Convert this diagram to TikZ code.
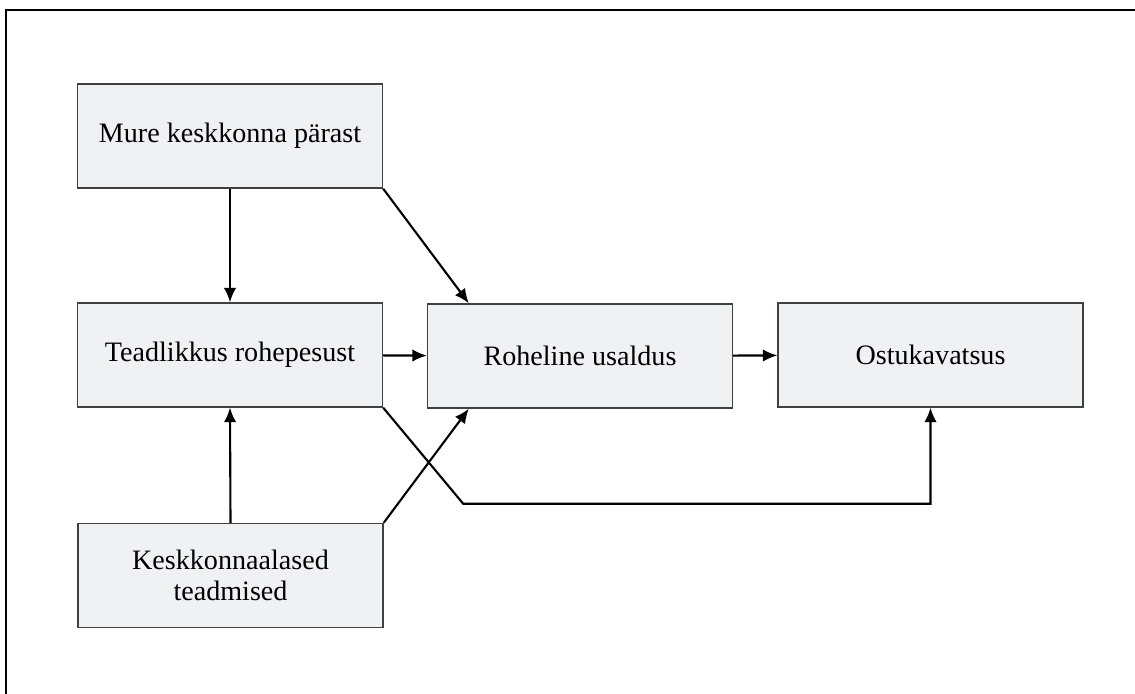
\documentclass[tikz,border=0pt]{standalone}
\usepackage{fontspec}
\setmainfont{Liberation Serif}
\usetikzlibrary{arrows.meta}
\definecolor{kastvarv}{RGB}{240,241,243}
\tikzset{
  kast/.style={draw=black!75,fill=kastvarv,line width=.8pt,minimum width=6.1cm,minimum height=2.08cm,align=center,font=\fontsize{16}{17.5}\selectfont,inner sep=0pt},
  nool/.style={-{Latex[length=2.9mm,width=2.5mm]},line width=1.2pt}
}
\begin{document}
\begin{tikzpicture}[x={(0.02cm,0)},y={(0,-0.02cm)}]
\useasboundingbox (0,0) rectangle (1135,693);
% raam
\draw[line width=1.6pt](6,700)--(6,10)--(1140,10);
\node[kast](mure) at (230,136){Mure keskkonna pärast};
\node[kast](teadl) at (230,355){Teadlikkus rohepesust};
\node[kast](kesk) at (230.5,575.5){Keskkonnaalased\\teadmised};
\node[kast](roh) at (580,356){Roheline usaldus};
\node[kast](ostu) at (930.5,355){Ostukavatsus};
\draw[nool](mure.south)--(teadl.north);
\draw[nool](kesk.north)--(teadl.south);
\draw[nool](mure.south east)--([xshift=0.84cm]roh.north west);
\draw[nool](kesk.north east)--([xshift=0.84cm]roh.south west);
\draw[nool](teadl)--(roh);
\draw[nool](roh)--(ostu);
\draw[nool](teadl.south east)--++(80,96)-|(ostu.south);
\end{tikzpicture}
\end{document}
